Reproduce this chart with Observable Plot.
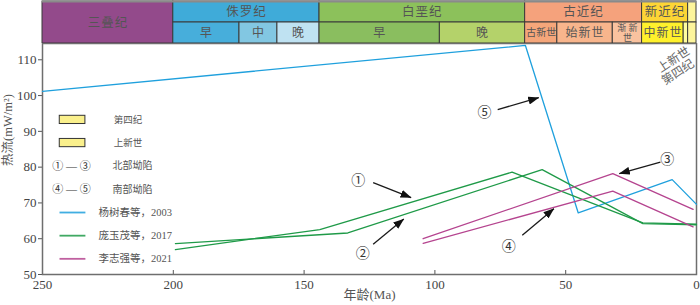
<!DOCTYPE html>
<html>
<head>
<meta charset="utf-8">
<script src="https://cdn.jsdelivr.net/npm/d3@7"></script>
<script src="https://cdn.jsdelivr.net/npm/@observablehq/plot@0.6"></script>
<style>
  body { margin: 0; background: #fff; }
  #chart svg { display: block; }
</style>
</head>
<body>
<div id="chart"></div>
<script>
// ---------------- data ----------------
// geologic time scale (Ma)
const periodNames  = ["三叠纪", "侏罗纪", "白垩纪", "古近纪", "新近纪", ""];
const periodStart  = [250, 200, 144.1, 65.5, 20.8, 3.2];
const periodEnd    = [200, 144.1, 65.5, 20.8, 3.2, 0];
const periodColors = ["#934a8b", "#3fabd9", "#8cc15b", "#f5a27c", "#fdd535", "#fdf59c"];

const epochNames  = ["早", "中", "晚", "早", "晚", "古新世", "始新世", "渐 新\n世", "中新世", "", ""];
const epochStart  = [200, 174.7, 160.2, 144.1, 98.1, 65.5, 53.2, 32.0, 20.8, 4.9, 3.2];
const epochEnd    = [174.7, 160.2, 144.1, 98.1, 65.5, 53.2, 32.0, 20.8, 4.9, 3.2, 0];
const epochColors = ["#47aedb", "#82c7e2", "#bfe2f2", "#8abe5f", "#b4d26a",
                     "#f5a67a", "#f8b58c", "#f9c29f", "#fff12c", "#fffd9e", "#fdf59c"];

// heat-flow series (age Ma, heat flow mW/m2)
const yangAge  = [250, 65.4, 45.2, 9.3, 0];          // 杨树春等, 2003  (⑤)
const yangHF   = [101.2, 114.0, 67.2, 76.5, 69.6];
const pang1Age = [199.2, 144.0, 70.5, 20.5, 0];      // 庞玉茂等, 2017  (①)
const pang1HF  = [56.97, 62.55, 78.6, 64.4, 64.1];
const pang2Age = [199.2, 133.3, 59.0, 20.5, 0];      // 庞玉茂等, 2017  (②)
const pang2HF  = [58.65, 61.6, 79.3, 64.2, 63.9];
const li3Age   = [104.5, 32.0, 1.3];                 // 李志强等, 2021  (③)
const li3HF    = [60.0, 78.2, 68.2];
const li4Age   = [104.5, 32.0, 1.3];                 // 李志强等, 2021  (④)
const li4HF    = [58.7, 73.3, 63.3];

const seriesNames  = ["杨树春等，2003", "庞玉茂等，2017", "李志强等，2021"];
const seriesColors = ["#1fa0dd", "#1f9a48", "#b5448f"];

const boxLegend   = ["第四纪", "上新世"];
const groupMarks  = ["① — ③", "④ — ⑤"];
const groupLabels = ["北部坳陷", "南部坳陷"];
const cornerLabels = ["上新世", "第四纪"];

// annotations (circled numbers & arrows, in data coordinates)
const annoLabels   = ["①", "②", "③", "④", "⑤"];
const annoAge      = [129.3, 127.6, 11.2, 71.8, 81.0];
const annoHF       = [76.3, 56.0, 82.1, 57.7, 95.4];
const arrowFromAge = [123.6, 123.6, 13.8, 66.6, 76.0];
const arrowFromHF  = [75.7, 58.45, 81.4, 61.0, 96.1];
const arrowToAge   = [109.1, 111.9, 29.5, 54.5, 60.3];
const arrowToHF    = [71.5, 65.5, 78.2, 68.4, 99.4];

const xTicks = [250, 200, 150, 100, 50, 0];
const yTicks = [50, 60, 70, 80, 90, 100, 110];

// ---------------- layout ----------------
const FONT = '"Liberation Serif", "Noto Sans CJK SC", serif';
const W = 700, ML = 42, MR = 4;
const H = 262, MB = 31;

const toPoints = (ax, hx) => ax.map((a, i) => ({age: a, hf: hx[i]}));
const lines = [
  {pts: toPoints(yangAge, yangHF), c: seriesColors[0]},
  {pts: toPoints(pang1Age, pang1HF), c: seriesColors[1]},
  {pts: toPoints(pang2Age, pang2HF), c: seriesColors[1]},
  {pts: toPoints(li3Age, li3HF), c: seriesColors[2]},
  {pts: toPoints(li4Age, li4HF), c: seriesColors[2]}
];

// ---- geologic time bar ----
const bar = Plot.plot({
  width: W, height: 43,
  marginLeft: ML, marginRight: MR, marginTop: 1, marginBottom: 0,
  x: {domain: [250, 0], axis: null},
  y: {domain: [0, 2], axis: null},
  color: {type: "identity"},
  style: {fontFamily: FONT, fontSize: 12, color: "#555", background: "#fff", letterSpacing: "1px"},
  marks: [
    Plot.rect(periodNames, {
      x1: (d, i) => periodStart[i], x2: (d, i) => periodEnd[i],
      y1: (d, i) => i === 0 ? 0 : 1, y2: 2,
      fill: (d, i) => periodColors[i], stroke: "#3a3a3a", strokeWidth: 1
    }),
    Plot.rect(epochNames, {
      x1: (d, i) => epochStart[i], x2: (d, i) => epochEnd[i],
      y1: 0, y2: 1,
      fill: (d, i) => epochColors[i], stroke: "#3a3a3a", strokeWidth: 1
    }),
    Plot.ruleY([2], {stroke: "#8a8a8a", strokeWidth: 2}),
    Plot.text(periodNames, {
      x: (d, i) => (periodStart[i] + periodEnd[i]) / 2,
      y: (d, i) => i === 0 ? 1 : 1.5,
      text: d => d, fill: "#555", fontSize: 12.5
    }),
    Plot.text(epochNames, {
      x: (d, i) => (epochStart[i] + epochEnd[i]) / 2,
      y: 0.5,
      text: d => d, fill: "#555",
      fontSize: d => (d === "古新世" ? 10 : d.includes("\n") ? 9 : 12),
      lineHeight: 1.05
    })
  ]
});
d3.select(bar).selectAll("text").filter(function() {
  const fs = parseFloat(this.getAttribute("font-size"));
  return fs && fs < 11;
}).attr("letter-spacing", "0");

// ---- main chart ----
const rowY = i => 93.2 - 6.47 * i;

const main = Plot.plot({
  width: W, height: H,
  marginLeft: ML, marginRight: MR, marginTop: 0, marginBottom: MB,
  x: {domain: [250, 0]},
  y: {domain: [50, 114.55]},
  color: {type: "identity"},
  style: {fontFamily: FONT, fontSize: 13, color: "#444", background: "#fff"},
  marks: [
    Plot.axisX({ticks: xTicks, tickSize: 0, tickPadding: 5, label: null, fill: "#444"}),
    Plot.tickX(xTicks, {x: d => d, insetTop: (H - MB) - 4, stroke: "#555", strokeWidth: 1}),
    Plot.axisY({ticks: yTicks, tickSize: 4, tickPadding: 2, label: null, fill: "#444", stroke: "#555"}),
    Plot.frame({stroke: "#6e6e6e", strokeWidth: 1.5}),

    // series
    ...lines.map(l => Plot.line(l.pts, {x: "age", y: "hf", stroke: l.c, strokeWidth: 1.3})),

    // annotation arrows (first link mark)
    Plot.link(annoLabels, {
      x1: (d, i) => arrowFromAge[i], y1: (d, i) => arrowFromHF[i],
      x2: (d, i) => arrowToAge[i], y2: (d, i) => arrowToHF[i],
      stroke: "#1a1a1a", strokeWidth: 1.3
    }),
    Plot.text(annoLabels, {
      x: (d, i) => annoAge[i], y: (d, i) => annoHF[i],
      text: d => d, fontSize: 14, fill: "#333"
    }),

    // corner rotated labels
    Plot.text(cornerLabels, {
      x: (d, i) => [8.7, 7.1][i], y: (d, i) => [110.0, 106.5][i],
      text: d => d, rotate: -33, fontSize: 12, fill: "#666"
    }),

    // legend: boxes
    Plot.rect(boxLegend, {
      x1: 243.4, x2: 233.6,
      y1: (d, i) => rowY(i) - 1.15, y2: (d, i) => rowY(i) + 1.15,
      fill: "#faf08c", stroke: "#333", strokeWidth: 1
    }),
    Plot.text(boxLegend, {x: 217.3, y: (d, i) => rowY(i), text: d => d, fontSize: 9.5, fill: "#555"}),
    // legend: groups
    Plot.text(groupMarks, {x: 238.9, y: (d, i) => rowY(i + 2), text: d => d, fontSize: 11, fill: "#333"}),
    Plot.text(groupLabels, {x: 215.6, y: (d, i) => rowY(i + 2), text: d => d, fontSize: 10, fill: "#555"}),
    // legend: series
    Plot.link(seriesNames, {
      x1: 243.5, x2: 233.6,
      y1: (d, i) => rowY(i + 4), y2: (d, i) => rowY(i + 4),
      stroke: (d, i) => seriesColors[i], strokeWidth: 1.8, strokeOpacity: 0.85
    }),
    Plot.text(seriesNames, {
      x: 228.6, y: (d, i) => rowY(i + 4), text: d => d,
      textAnchor: "start", fontSize: 10.5, fill: "#555"
    }),

    // axis titles
    Plot.text(["热流(mW/m²)"], {frameAnchor: "left", rotate: -90, dx: -35, dy: 7, fontSize: 12.5, fill: "#555"}),
    Plot.text(["年龄(Ma)"], {frameAnchor: "bottom", dy: 24, fontSize: 13, fill: "#555"})
  ]
});

// filled arrowheads on the annotation links
const msvg = d3.select(main);
const defs = msvg.insert("defs", ":first-child");
defs.append("marker")
  .attr("id", "ah").attr("viewBox", "0 0 11 8")
  .attr("refX", 10.5).attr("refY", 4)
  .attr("markerWidth", 11).attr("markerHeight", 8)
  .attr("markerUnits", "userSpaceOnUse").attr("orient", "auto")
  .append("path").attr("d", "M0,0L11,4L0,8Z").attr("fill", "#111").attr("stroke", "none");
const linkGroups = msvg.selectAll('g[aria-label="link"]').nodes();
if (linkGroups.length) {
  d3.select(linkGroups[0]).selectAll("path").attr("marker-end", "url(#ah)");
}

const root = document.getElementById("chart");
root.appendChild(bar);
root.appendChild(main);
</script>
</body>
</html>
